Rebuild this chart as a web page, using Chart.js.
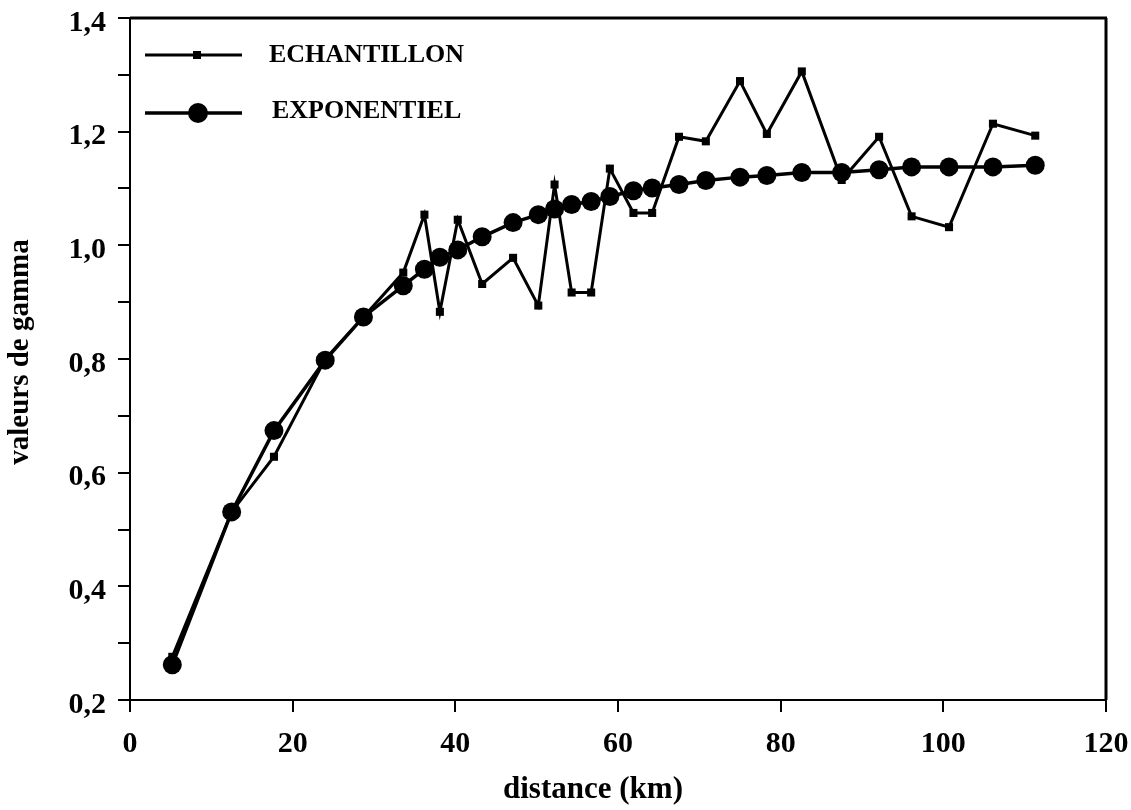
<!DOCTYPE html>
<html>
<head>
<meta charset="utf-8">
<script src="https://cdn.jsdelivr.net/npm/chart.js@4/dist/chart.umd.min.js"></script>
<style>
html,body{margin:0;padding:0;background:#fff;}
#wrap{width:1131px;height:810px;position:relative;}
</style>
</head>
<body>
<div id="wrap"><canvas id="c" width="1131" height="810"></canvas></div>
<script>
const distances = [5.2, 12.5, 17.7, 24.0, 28.7, 33.6, 36.2, 38.1, 40.3, 43.3, 47.1, 50.2, 52.2, 54.3, 56.7, 59.0, 61.9, 64.2, 67.5, 70.8, 75.0, 78.3, 82.6, 87.5, 92.1, 96.1, 100.7, 106.1, 111.3];
const echantillon = [0.276, 0.531, 0.628, 0.800, 0.874, 0.952, 1.054, 0.883, 1.045, 0.932, 0.978, 0.894, 1.107, 0.917, 0.917, 1.135, 1.057, 1.057, 1.191, 1.183, 1.289, 1.196, 1.306, 1.115, 1.191, 1.051, 1.032, 1.214, 1.193];
const exponentiel = [0.262, 0.531, 0.674, 0.798, 0.874, 0.929, 0.958, 0.979, 0.992, 1.015, 1.040, 1.054, 1.064, 1.072, 1.077, 1.086, 1.096, 1.101, 1.107, 1.114, 1.120, 1.123, 1.128, 1.128, 1.133, 1.138, 1.138, 1.138, 1.141];
const seriesNames = ["ECHANTILLON", "EXPONENTIEL"];
const xTitle = "distance (km)";
const yTitle = "valeurs de gamma";

const FONT = "'Liberation Serif', 'Times New Roman', serif";

const framePlugin = {
  id: 'frame',
  afterDatasetsDraw(chart) {
    const {ctx, chartArea: a} = chart;
    ctx.save();
    ctx.strokeStyle = '#000';
    ctx.lineWidth = 2;
    ctx.strokeRect(a.left, a.top, a.right - a.left, a.bottom - a.top);
    ctx.lineWidth = 3;
    ctx.beginPath(); ctx.moveTo(a.left, a.top); ctx.lineTo(a.right + 1, a.top); ctx.stroke();
    ctx.beginPath(); ctx.moveTo(a.right, a.top); ctx.lineTo(a.right, a.bottom); ctx.stroke();
    ctx.restore();
  }
};

const legendPlugin = {
  id: 'customLegend',
  afterDraw(chart) {
    const {ctx} = chart;
    ctx.save();
    ctx.strokeStyle = '#000';
    ctx.fillStyle = '#000';
    ctx.lineWidth = 3;
    ctx.beginPath(); ctx.moveTo(145, 55); ctx.lineTo(242, 55); ctx.stroke();
    ctx.fillRect(193, 51, 8, 8);
    ctx.lineWidth = 3.5;
    ctx.beginPath(); ctx.moveTo(145, 113); ctx.lineTo(242, 113); ctx.stroke();
    ctx.beginPath(); ctx.arc(198, 113, 10, 0, Math.PI * 2); ctx.fill();
    ctx.font = "bold 26px " + FONT;
    ctx.textBaseline = 'middle';
    ctx.textAlign = 'left';
    ctx.fillText(seriesNames[0], 269, 55);
    ctx.fillText(seriesNames[1], 272, 111);
    ctx.font = "bold 31px " + FONT;
    ctx.textAlign = 'center';
    ctx.fillText(xTitle, 593, 790);
    ctx.save();
    ctx.translate(21, 352);
    ctx.rotate(-Math.PI / 2);
    ctx.font = "bold 29px " + FONT;
    ctx.fillText(yTitle, 0, 0);
    ctx.restore();
    ctx.restore();
  }
};

new Chart(document.getElementById('c'), {
  type: 'line',
  data: {
    datasets: [
      {
        label: seriesNames[1],
        data: distances.map((d, i) => ({x: d, y: exponentiel[i]})),
        borderColor: '#000',
        backgroundColor: '#000',
        borderWidth: 3.5,
        pointStyle: 'circle',
        pointRadius: 9.5,
        pointHoverRadius: 9.5,
        pointBorderWidth: 0,
        tension: 0,
        order: 0
      },
      {
        label: seriesNames[0],
        data: distances.map((d, i) => ({x: d, y: echantillon[i]})),
        borderColor: '#000',
        backgroundColor: '#000',
        borderWidth: 3,
        pointStyle: 'rect',
        pointRadius: 5.7,
        pointHoverRadius: 5.7,
        pointBorderWidth: 0,
        tension: 0,
        order: 1
      }
    ]
  },
  options: {
    responsive: false,
    animation: false,
    layout: {padding: {top: 18, right: 25, left: 0, bottom: 0}},
    plugins: {legend: {display: false}, tooltip: {enabled: false}},
    scales: {
      x: {
        type: 'linear',
        min: 0, max: 120,
        afterFit(s) { s.height = 110; s.paddingLeft = 0; s.paddingRight = 0; },
        ticks: {stepSize: 20, color: '#000', padding: 14, font: {family: FONT, size: 30, weight: 'bold'}},
        grid: {drawOnChartArea: false, tickLength: 12, color: '#000', lineWidth: 2},
        border: {display: true, color: '#000', width: 2},
        title: {display: false, text: xTitle}
      },
      y: {
        type: 'linear',
        min: 0.2, max: 1.4,
        afterFit(s) { s.width = 130; s.paddingTop = 0; s.paddingBottom = 0; },
        afterBuildTicks(s) {
          const t = [];
          for (let i = 2; i <= 14; i++) t.push({value: i / 10});
          s.ticks = t;
        },
        ticks: {
          color: '#000', padding: 12, autoSkip: false, labelOffset: 5,
          font: {family: FONT, size: 30, weight: 'bold'},
          callback: (v) => {
            const n = Math.round(v * 10);
            return n % 2 === 0 ? (n / 10).toFixed(1).replace('.', ',') : '';
          }
        },
        grid: {drawOnChartArea: false, tickLength: 12, color: '#000', lineWidth: 2},
        border: {display: true, color: '#000', width: 2},
        title: {display: false, text: yTitle}
      }
    }
  },
  plugins: [framePlugin, legendPlugin]
});
</script>
</body>
</html>
